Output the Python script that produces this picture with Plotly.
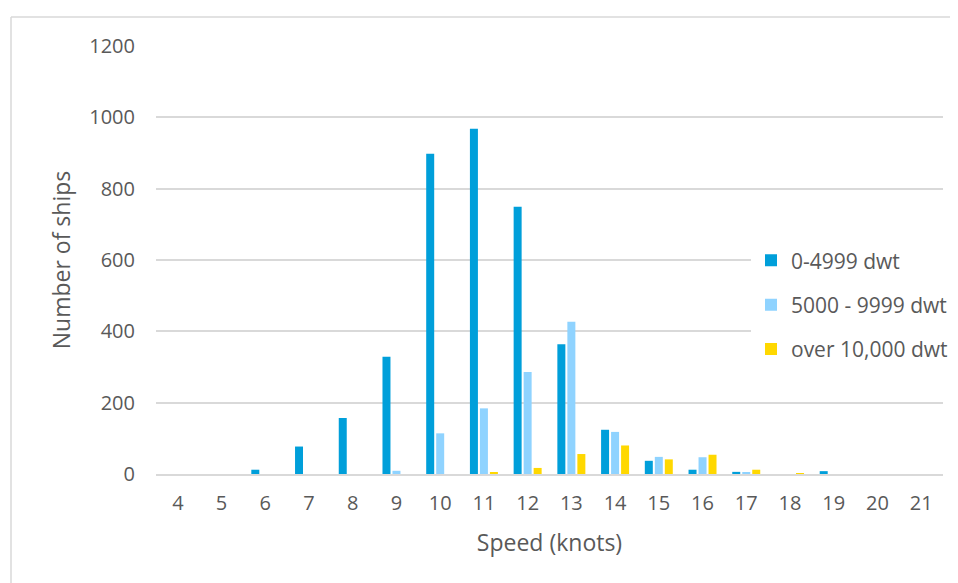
import plotly.graph_objects as go

speeds = [str(s) for s in range(4, 22)]
small = [0, 0, 12, 77, 157, 329, 898, 968, 749, 364, 124, 37, 12, 6, 0, 8, 0, 0]
medium = [0, 0, 0, 0, 0, 9, 114, 184, 286, 427, 118, 48, 47, 3, 0, 0, 0, 0]
large = [0, 0, 0, 0, 0, 0, 0, 4, 17, 56, 80, 41, 54, 12, 2, 0, 0, 0]
series_names = ["0-4999 dwt", "5000 - 9999 dwt", "over 10,000 dwt"]
colors = ["#009FDA", "#8FD3FF", "#FFD800"]
y_ticks = [0, 200, 400, 600, 800, 1000, 1200]

FONT = "Open Sans"
TXT = "#595959"
GRID = "#d9d9d9"

fig = go.Figure()
for name, vals, col in zip(series_names, [small, medium, large], colors):
    fig.add_trace(go.Bar(
        x=speeds, y=vals, name=name, legendgroup=name,
        marker=dict(color=col, line=dict(width=0)),
    ))

# page body has an 8px margin; figure coordinates are window coords minus OFF
OFF = 8
W, H = 958 - OFF, 583 - OFF
L = 156 - OFF
R = W - (943 - OFF)
T = 46 - OFF
B = H - (474.5 - OFF)
pw, ph = W - L - R, H - T - B

def px_to_paper_x(px):
    return (px - OFF - L) / pw

def px_to_paper_y(py):
    return (H - B - (py - OFF)) / ph

fig.update_layout(
    width=W, height=H,
    margin=dict(l=L, r=R, t=T, b=B, autoexpand=False),
    paper_bgcolor="white", plot_bgcolor="white",
    font=dict(family=FONT, size=20, color=TXT),
    barmode="group", bargap=0.314, bargroupgap=0.2,
    showlegend=True,
    legend=dict(
        x=px_to_paper_x(751), xanchor="left",
        y=px_to_paper_y(305), yanchor="middle",
        bgcolor="white", borderwidth=0,
        font=dict(family=FONT, size=21, color=TXT),
        tracegroupgap=14, itemclick=False, itemdoubleclick=False,
    ),
    xaxis=dict(
        type="category", showgrid=False, ticks="",
        showline=True, linecolor=GRID, linewidth=2,
        tickfont=dict(family=FONT, size=20, color=TXT),
        ticklabelstandoff=10,
        title=dict(text="Speed (knots)", font=dict(family=FONT, size=23, color=TXT), standoff=20),
    ),
    yaxis=dict(
        range=[0, 1200], tickvals=y_ticks, showgrid=True, gridcolor=GRID, gridwidth=1.5,
        zeroline=False, showline=False, ticks="",
        tickfont=dict(family=FONT, size=20, color=TXT),
        ticklabelstandoff=20,
        title=dict(text="Number of ships", font=dict(family=FONT, size=23, color=TXT), standoff=12),
    ),
    shapes=[
        dict(type="line", xref="paper", yref="paper",
             x0=px_to_paper_x(11), x1=px_to_paper_x(11),
             y0=px_to_paper_y(17), y1=px_to_paper_y(600),
             line=dict(color=GRID, width=1.5)),
        dict(type="line", xref="paper", yref="paper",
             x0=px_to_paper_x(11), x1=px_to_paper_x(970),
             y0=px_to_paper_y(17), y1=px_to_paper_y(17),
             line=dict(color=GRID, width=1.5)),
    ],
)

fig.write_html("out.html")
